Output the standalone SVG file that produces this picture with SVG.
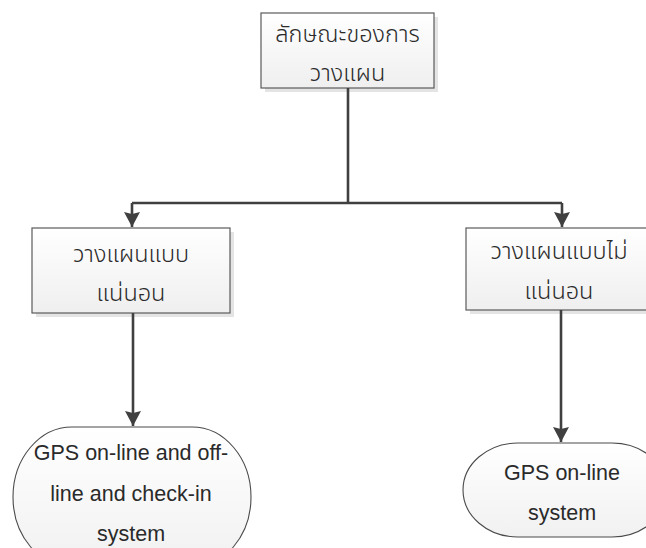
<svg xmlns="http://www.w3.org/2000/svg" width="646" height="548" viewBox="0 0 646 548">
  <style>
    .box { fill: url(#boxFill); stroke: #5a5a5a; stroke-width: 1.2; }
    .shadow { fill: #e4e4e4; }
    .term { fill: url(#termFill); stroke: #4a4a4a; stroke-width: 1.1; }
    .th { font-family: "Noto Sans Thai", "Noto Sans", "DejaVu Sans", sans-serif; font-size: 23.5px; font-weight: 300; fill: #2a2a2a; text-anchor: middle; }
    .en { font-family: "Liberation Sans", Arial, sans-serif; font-size: 21.5px; fill: #2a2a2a; text-anchor: middle; }
    .link { fill: none; stroke: #404040; stroke-width: 2.6; }
  </style>
  <defs>
    <linearGradient id="boxFill" x1="0" y1="0" x2="0" y2="1">
      <stop offset="0" stop-color="#ffffff"/>
      <stop offset="1" stop-color="#efefef"/>
    </linearGradient>
    <linearGradient id="termFill" x1="0" y1="0" x2="0" y2="1">
      <stop offset="0" stop-color="#ffffff"/>
      <stop offset="1" stop-color="#f1f1f1"/>
    </linearGradient>
    <marker id="arrow" markerWidth="18" markerHeight="18" refX="15" refY="8" orient="auto" markerUnits="userSpaceOnUse">
      <path d="M0,0 L15,8 L0,16 L2,8 Z" fill="#404040"/>
    </marker>
  </defs>

  <!-- process boxes -->
  <g id="node-top">
    <rect class="shadow" x="265" y="17" width="173" height="75"/>
    <rect class="box" x="261" y="13" width="173" height="75"/>
    <text class="th" x="347.5" y="42">ลักษณะของการ</text>
    <text class="th" x="347.5" y="81">วางแผน</text>
  </g>
  <g id="node-fixed">
    <rect class="shadow" x="36" y="232" width="198" height="85"/>
    <rect class="box" x="32" y="228" width="198" height="85"/>
    <text class="th" x="131" y="262">วางแผนแบบ</text>
    <text class="th" x="131" y="301">แน่นอน</text>
  </g>
  <g id="node-flexible">
    <rect class="shadow" x="470" y="232" width="190" height="82"/>
    <rect class="box" x="466" y="228" width="190" height="82"/>
    <text class="th" x="559" y="259">วางแผนแบบไม่</text>
    <text class="th" x="559" y="299">แน่นอน</text>
  </g>

  <!-- terminators -->
  <g id="node-gps-full">
    <path class="term" d="M72,427 H192 A59,70 0 0 1 192,567 H72 A59,70 0 0 1 72,427 Z"/>
    <text class="en" x="131" y="460">GPS on-line and off-</text>
    <text class="en" x="131" y="501">line and check-in</text>
    <text class="en" x="131" y="541">system</text>
  </g>
  <g id="node-gps-online">
    <path class="term" d="M518,443 H612 A55,47 0 0 1 612,537 H518 A55,47 0 0 1 518,443 Z"/>
    <text class="en" x="562" y="480">GPS on-line</text>
    <text class="en" x="562" y="520">system</text>
  </g>

  <!-- connectors -->
  <g id="connectors">
    <path class="link" d="M348,88 V203"/>
    <path class="link" d="M132,203 H562"/>
    <path class="link" d="M132,203 V227" marker-end="url(#arrow)"/>
    <path class="link" d="M562,203 V227" marker-end="url(#arrow)"/>
    <path class="link" d="M133,313 V426" marker-end="url(#arrow)"/>
    <path class="link" d="M561,310 V442" marker-end="url(#arrow)"/>
  </g>
</svg>
